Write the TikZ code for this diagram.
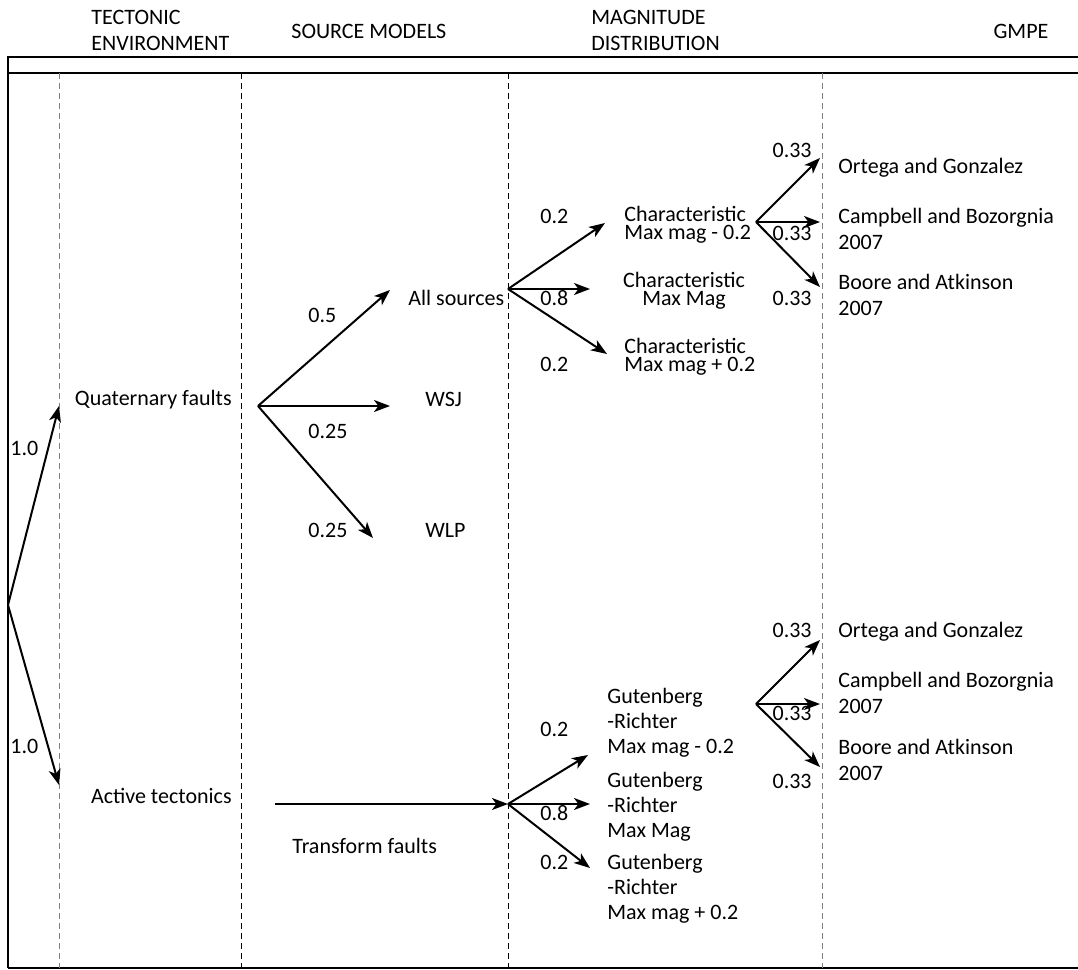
\documentclass[tikz,border=0pt]{standalone}
\usepackage{fontspec}
\setmainfont{Carlito}
\usetikzlibrary{arrows.meta}

\begin{document}
\begin{tikzpicture}[x=0.5pt, y=-0.5pt, font=\fontsize{11}{13}\selectfont,
  txt/.style={inner sep=0pt, anchor=base west, align=left},
  wt/.style={inner sep=0pt, anchor=base west},
  wtr/.style={inner sep=0pt, anchor=base east},
  arr/.style={-{Stealth[length=8pt, width=6pt, inset=2.2pt]}, line width=1pt},
  frame/.style={line width=1pt},
  sep/.style={line width=0.5pt, dash pattern=on 3pt off 2pt},
  tight/.style={font=\fontsize{11}{9}\selectfont},
  gr/.style={font=\fontsize{11}{12.3}\selectfont}]
\useasboundingbox (0,0) rectangle (1078,970);

% frame and columns
\draw[frame] (8,968) -- (8,57) -- (1078,57);
\draw[frame] (8,73) -- (1078,73);
\draw[frame] (8,968) -- (1078,968);
\draw[sep, gray] (59,73) -- (59,968);
\draw[sep] (241,73) -- (241,968);
\draw[sep] (508,73) -- (508,968);
\draw[sep, gray] (822,73) -- (822,968);

% headers (base = last line)
\node (tect) [txt] at (91,50) {TECTONIC\\ENVIRONMENT};
\node (srcm) [wt] at (291,38) {SOURCE MODELS};
\node (magd) [txt] at (591,50) {MAGNITUDE\\DISTRIBUTION};
\node (gmpe) [inner sep=0pt, anchor=base] at (1021,38) {GMPE};

% tectonic environment
\coordinate (root) at (8,605);
\coordinate (qf-in) at (59,406);
\coordinate (at-in) at (59,785);
\node (qfault) [wtr] at (232,405) {Quaternary faults};
\node (active) [wtr] at (232,803) {Active tectonics};
\node (w-qf) [wt] at (10,455) {1.0};
\node (w-at) [wt] at (10,753) {1.0};
\draw[arr] (root) -- (qf-in);
\draw[arr] (root) -- (at-in);

% source models, quaternary faults
\coordinate (qf-out) at (258,406);
\coordinate (all-in) at (390,290);
\coordinate (wsj-in) at (390,406);
\coordinate (wlp-in) at (373,538);
\node (allsrc) [wt] at (408,305) {All sources};
\node (wsj) [wt] at (425,406) {WSJ};
\node (wlp) [wt] at (425,537) {WLP};
\node (w-all) [wt] at (308,322) {0.5};
\node (w-wsj) [wt] at (308,438) {0.25};
\node (w-wlp) [wt] at (308,537) {0.25};
\draw[arr] (qf-out) -- (all-in);
\draw[arr] (qf-out) -- (wsj-in);
\draw[arr] (qf-out) -- (wlp-in);

% source models, active tectonics
\coordinate (at-out) at (275,804);
\coordinate (tf-out) at (508,804);
\node (transf) [wt] at (292,853) {Transform faults};
\draw[arr] (at-out) -- (tf-out);

% magnitude distribution, all sources
\coordinate (all-out) at (508,289);
\coordinate (ch1-in) at (605,223);
\coordinate (ch2-in) at (590,289);
\coordinate (ch3-in) at (607,354);
\node (char1) [txt, tight] at (624,239) {Characteristic\\Max mag - 0.2};
\node (char2) [inner sep=0pt, anchor=base, align=center, tight] at (684,305) {Characteristic\\Max Mag};
\node (char3) [txt, tight] at (624,371) {Characteristic\\Max mag + 0.2};
\node (w-ch1) [wt] at (540,223) {0.2};
\node (w-ch2) [wt] at (540,305) {0.8};
\node (w-ch3) [wt] at (540,371) {0.2};
\draw[arr] (all-out) -- (ch1-in);
\draw[arr] (all-out) -- (ch2-in);
\draw[arr] (all-out) -- (ch3-in);

% magnitude distribution, transform faults
\coordinate (gr1-in) at (588,755);
\coordinate (gr2-in) at (590,804);
\coordinate (gr3-in) at (590,868);
\node (gr1) [txt, gr] at (607,753) {Gutenberg\\-Richter\\Max mag - 0.2};
\node (gr2) [txt, gr] at (607,837) {Gutenberg\\-Richter\\Max Mag};
\node (gr3) [txt, gr] at (607,919) {Gutenberg\\-Richter\\Max mag + 0.2};
\node (w-gr1) [wt] at (540,736) {0.2};
\node (w-gr2) [wt] at (540,820) {0.8};
\node (w-gr3) [wt] at (540,869) {0.2};
\draw[arr] (tf-out) -- (gr1-in);
\draw[arr] (tf-out) -- (gr2-in);
\draw[arr] (tf-out) -- (gr3-in);

% GMPE, upper branch
\coordinate (ch1-out) at (756,222);
\coordinate (og1-in) at (820,158);
\coordinate (cb1-in) at (820,222);
\coordinate (ba1-in) at (820,287);
\node (og1) [wt] at (838,173) {Ortega and Gonzalez};
\node (cb1) [txt] at (838,249) {Campbell and Bozorgnia\\2007};
\node (ba1) [txt] at (838,315) {Boore and Atkinson\\2007};
\node (w-og1) [wtr] at (812,157) {0.33};
\node (w-cb1) [wtr] at (812,240) {0.33};
\node (w-ba1) [wtr] at (812,305) {0.33};
\draw[arr] (ch1-out) -- (og1-in);
\draw[arr] (ch1-out) -- (cb1-in);
\draw[arr] (ch1-out) -- (ba1-in);

% GMPE, lower branch
\coordinate (gr1-out) at (756,704);
\coordinate (og2-in) at (820,640);
\coordinate (cb2-in) at (820,704);
\coordinate (ba2-in) at (820,767);
\node (og2) [wt] at (838,637) {Ortega and Gonzalez};
\node (cb2) [txt] at (838,713) {Campbell and Bozorgnia\\2007};
\node (ba2) [txt] at (838,780) {Boore and Atkinson\\2007};
\node (w-og2) [wtr] at (812,637) {0.33};
\node (w-cb2) [wtr] at (812,720) {0.33};
\node (w-ba2) [wtr] at (812,788) {0.33};
\draw[arr] (gr1-out) -- (og2-in);
\draw[arr] (gr1-out) -- (cb2-in);
\draw[arr] (gr1-out) -- (ba2-in);
\end{tikzpicture}
\end{document}
